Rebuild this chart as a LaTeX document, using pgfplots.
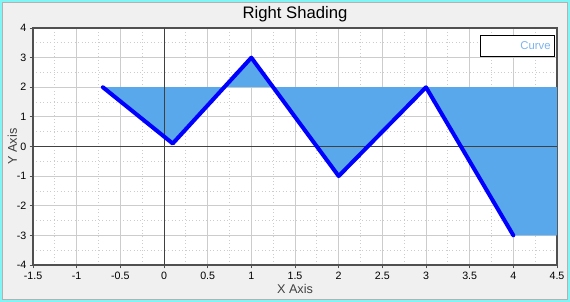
\documentclass[border=0pt]{standalone}
\usepackage{pgfplots}
\pgfplotsset{compat=1.18}
\usepackage{fontspec}
\setmainfont{Liberation Sans}
\definecolor{bgc}{HTML}{F0F0F0}
\definecolor{brd}{HTML}{7FF5F5}
\definecolor{fillc}{HTML}{5AA8EC}
\definecolor{legc}{HTML}{7DB4F0}
\definecolor{gridc}{HTML}{CCCCCC}
\definecolor{framec}{HTML}{505050}
\begin{document}
\begin{tikzpicture}[x=1pt,y=1pt]
\fill[bgc] (0,0) rectangle (427.5,226.5);
\draw[brd, line width=1.5pt] (0.75,0.75) rectangle (426.75,225.75);
\draw[gray!60, line width=0.4pt] (2,2) rectangle (425.5,224.5);
\node[font=\fontsize{12.5}{14}\selectfont] at (221.25,216) {Right Shading};
\begin{axis}[
  at={(24.75pt,27.75pt)}, anchor=south west,
  scale only axis, width=393pt, height=177.75pt,
  axis background/.style={fill=white},
  xmin=-1.5, xmax=4.5, ymin=-4, ymax=4,
  xtick={-1.5,-1,...,4.5}, ytick={-4,-3,...,4},
  xticklabels={-1.5,-1,-0.5,0,0.5,1,1.5,2,2.5,3,3.5,4,4.5},
  minor x tick num=1, minor y tick num=1,
  grid=both,
  major grid style={gridc, line width=0.75pt},
  minor grid style={gridc, line width=0.6pt, dotted},
  axis line style={framec, line width=0.9pt},
  tick style={framec, line width=0.6pt},
  minor tick length=0pt,
  major tick length=2.5pt,
  tick align=outside,
  xtick pos=bottom, ytick pos=left,
  /pgf/number format/assume math mode=true,
  ticklabel style={font=\fontsize{8}{9}\selectfont, text=black},
  xticklabel style={yshift=1pt},
  yticklabel style={xshift=1pt},
  xlabel={X Axis}, ylabel={Y Axis},
  label style={font=\fontsize{9.5}{11}\selectfont, text=black!75},
  xlabel style={yshift=3pt},
  ylabel style={yshift=-7pt},
  legend style={at={(1,1)}, anchor=north east, xshift=-1.5pt, yshift=-5.5pt,
    draw=black, fill=white, line width=0.6pt, font=\fontsize{8.5}{10}\selectfont,
    text=legc, inner sep=0.5pt,
    nodes={text width=50pt, align=right, inner sep=2.5pt, minimum height=14.5pt}},
  legend image code/.code={},
]
\addplot[fill=fillc, draw=none, forget plot] coordinates {
  (-0.7,2) (0.1,0.1) (1,3) (2,-1) (3,2) (4,-3) (4.5,-3) (4.5,2)
} -- cycle;
\draw[black!75, line width=0.75pt] (axis cs:0,-4) -- (axis cs:0,4);
\draw[black!75, line width=0.75pt] (axis cs:-1.5,0) -- (axis cs:4.5,0);
\addplot[blue, line width=3pt, line join=round, line cap=round, mark=none] coordinates {
  (-0.7,2) (0.1,0.1) (1,3) (2,-1) (3,2) (4,-3)
};
\addlegendentry{Curve}
\end{axis}
\end{tikzpicture}
\end{document}
